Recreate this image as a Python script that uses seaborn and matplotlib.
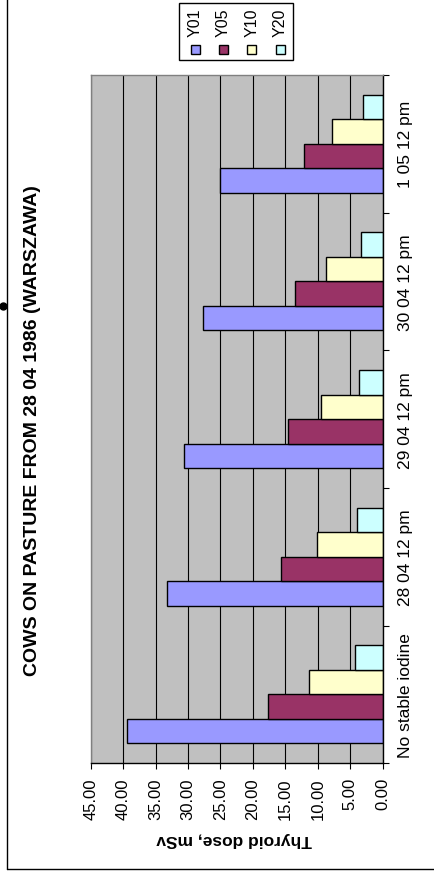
import numpy as np
import pandas as pd
import matplotlib
matplotlib.use("Agg")
import matplotlib.pyplot as plt
from matplotlib.patches import Rectangle
from matplotlib.lines import Line2D
import seaborn as sns

# ---- data -------------------------------------------------------------
categories = ["No stable iodine", "28 04 12 pm", "29 04 12 pm",
              "30 04 12 pm", "1 05 12 pm"]
series = ["Y01", "Y05", "Y10", "Y20"]
y01 = [39.4, 33.3, 30.6, 27.75, 25.1]
y05 = [17.75, 15.75, 14.6, 13.45, 12.2]
y10 = [11.4, 10.15, 9.5, 8.7, 7.85]
y20 = [4.3, 3.9, 3.7, 3.3, 3.1]
value_ticks = [0, 5, 10, 15, 20, 25, 30, 35, 40, 45]

title = "COWS ON PASTURE FROM 28 04 1986 (WARSZAWA)"
value_label = "Thyroid dose, mSv"
colors = ["#9999FF", "#993366", "#FFFFCC", "#CCFFFF"]

df = pd.DataFrame({
    "category": categories * 4,
    "series": [s for s in series for _ in categories],
    "dose": y01 + y05 + y10 + y20,
})

# ---- style ------------------------------------------------------------
sns.set_theme(style="white")
plt.rcParams["font.family"] = ["Liberation Sans", "DejaVu Sans"]

W, H = 434, 878
fig = plt.figure(figsize=(W / 100, H / 100), dpi=100)
fig.patch.set_facecolor("white")


def fx(px):
    return px / W


def fy(py):
    return 1 - py / H


# plot area (pixel box: x 90.7..382.7, y 76..764.3)
ax = fig.add_axes([fx(90.7), fy(764.3), fx(382.7) - fx(90.7), fy(76) - fy(764.3)])
ax.set_facecolor("#C0C0C0")

sns.barplot(data=df, x="dose", y="category", hue="series",
            order=categories, hue_order=series, orient="h",
            palette=colors, width=0.712, saturation=1,
            edgecolor="black", linewidth=1, errorbar=None,
            legend=False, ax=ax)

ax.set_xlim(45, 0)
ax.set_ylim(-0.5, 4.5)
ax.set_xlabel("")
ax.set_ylabel("")

# value axis (bottom)
ax.set_xticks(value_ticks)
ax.set_xticklabels([f"{v:.2f}" for v in value_ticks], rotation=90)
ax.tick_params(axis="x", which="major", bottom=True, direction="out",
               length=4, width=0.8, color="black", pad=6,
               labelsize=12, labelcolor="black")
ax.xaxis.grid(True, color="black", linewidth=0.8)
ax.yaxis.grid(False)
ax.set_axisbelow(True)

# category axis (right)
ax.yaxis.set_ticks_position("right")
ax.set_yticks(np.arange(-0.5, 5, 1))
ax.set_yticklabels([""] * 6)
ax.set_yticks(range(len(categories)), minor=True)
ax.set_yticklabels(categories, minor=True, rotation=90, va="center")
ax.tick_params(axis="y", which="major", right=True, left=False,
               direction="out", length=4, width=0.8, color="black")
ax.tick_params(axis="y", which="minor", right=True, left=False,
               length=0, pad=11, labelsize=12.5, labelcolor="black",
               labelright=True, labelleft=False)

for side in ["left", "top"]:
    ax.spines[side].set_color("#808080")
    ax.spines[side].set_linewidth(1)
for side in ["right", "bottom"]:
    ax.spines[side].set_color("black")
    ax.spines[side].set_linewidth(1)

# titles
fig.text(fx(33), fy(431), title, rotation=90, ha="center", va="center",
         fontsize=14, fontweight="bold", color="black")
fig.text(fx(234), fy(840), value_label, rotation=180, ha="center",
         va="center", fontsize=12.5, fontweight="bold", color="black")

# legend box
fig.add_artist(Rectangle((fx(179), fy(61)), fx(293) - fx(179), fy(4) - fy(61),
                         transform=fig.transFigure, facecolor="white",
                         edgecolor="black", linewidth=1))
legend_x = [195, 223.3, 251.7, 280]
for name, col, cx in zip(series, colors, legend_x):
    fig.add_artist(Rectangle((fx(cx - 4.5), fy(54.5)), fx(9), fy(45.5) - fy(54.5),
                             transform=fig.transFigure, facecolor=col,
                             edgecolor="black", linewidth=1))
    fig.text(fx(cx), fy(23), name, rotation=90, ha="center", va="center",
             fontsize=11.5, color="black")

# chart frame
fig.add_artist(Line2D([fx(7.3), fx(7.3)], [fy(0), fy(870)],
                      transform=fig.transFigure, color="black", linewidth=1))
fig.add_artist(Line2D([fx(7.3), fx(434)], [fy(870), fy(870)],
                      transform=fig.transFigure, color="black", linewidth=1))
fig.add_artist(Line2D([fx(3)], [fy(307)], transform=fig.transFigure,
                      marker="o", markersize=5, color="black", linestyle=""))

fig.savefig("out.png", dpi=100)
